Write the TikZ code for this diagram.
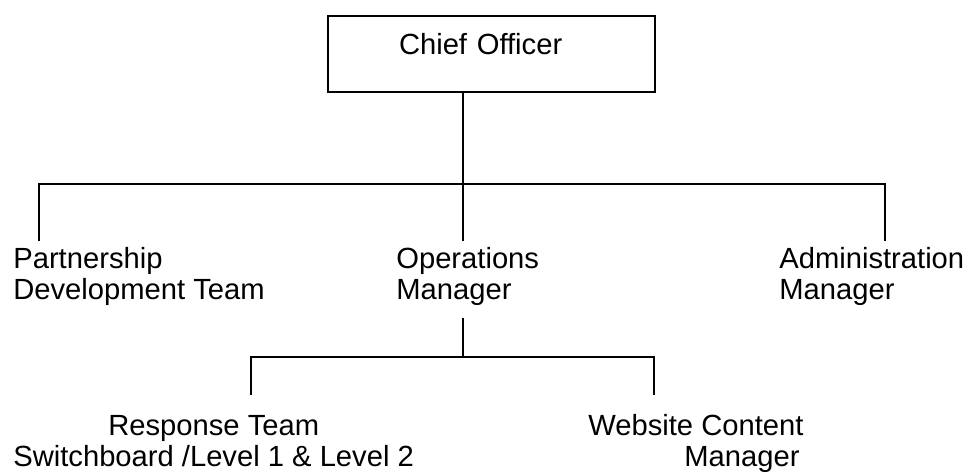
\documentclass[tikz,border=0pt]{standalone}
\usepackage{fontspec}
\setmainfont{Liberation Sans}
\usetikzlibrary{calc}

\tikzset{
  link/.style={black, line width=0.4mm},
  txt/.style={anchor=base west, inner sep=0pt, align=left, font=\fontsize{16.6}{17.6}\selectfont},
}

\begin{document}
\begin{tikzpicture}[x=0.2mm,y=-0.2mm]
\useasboundingbox (0,0) rectangle (966,472);

% row-1
\node[txt, anchor=north west, draw, line width=0.4mm, inner xsep=14.2mm, inner ysep=0pt,
  text width=37mm, text height=7.6mm, text depth=7.6mm] (chief) at (327,15) {Chief Officer};

% row-2 (base = last line)
\node[txt] (pdt) at (13,299) {Partnership\\Development Team};
\node[txt] (ops) at (396,299) {Operations\\Manager};
\node[txt] (adm) at (779,299) {Administration\\Manager};

% row-3
\node[txt] (resp) at (13,466) {\hspace*{19mm}Response Team\\Switchboard /Level 1 \& Level 2};
\node[txt] (web) at (588,466) {Website Content\\\hspace*{19.2mm}Manager};

% ends of the lines
\coordinate (busA) at (463,184);
\coordinate (pdtTop) at (39,241);
\coordinate (opsTop) at (463,241);
\coordinate (admTop) at (885,241);
\coordinate (opsBot) at (463,318);
\coordinate (busB) at (463,357);
\coordinate (respTop) at (251,395);
\coordinate (webTop) at (654,395);

\draw[link] (chief.south -| busA) -- (busA);
\draw[link] (pdtTop) -- (pdtTop |- busA) -- (admTop |- busA) -- (admTop);
\draw[link] (busA) -- (opsTop);
\draw[link] (opsBot) -- (busB);
\draw[link] (respTop) -- (respTop |- busB) -- (webTop |- busB) -- (webTop);
\end{tikzpicture}
\end{document}
